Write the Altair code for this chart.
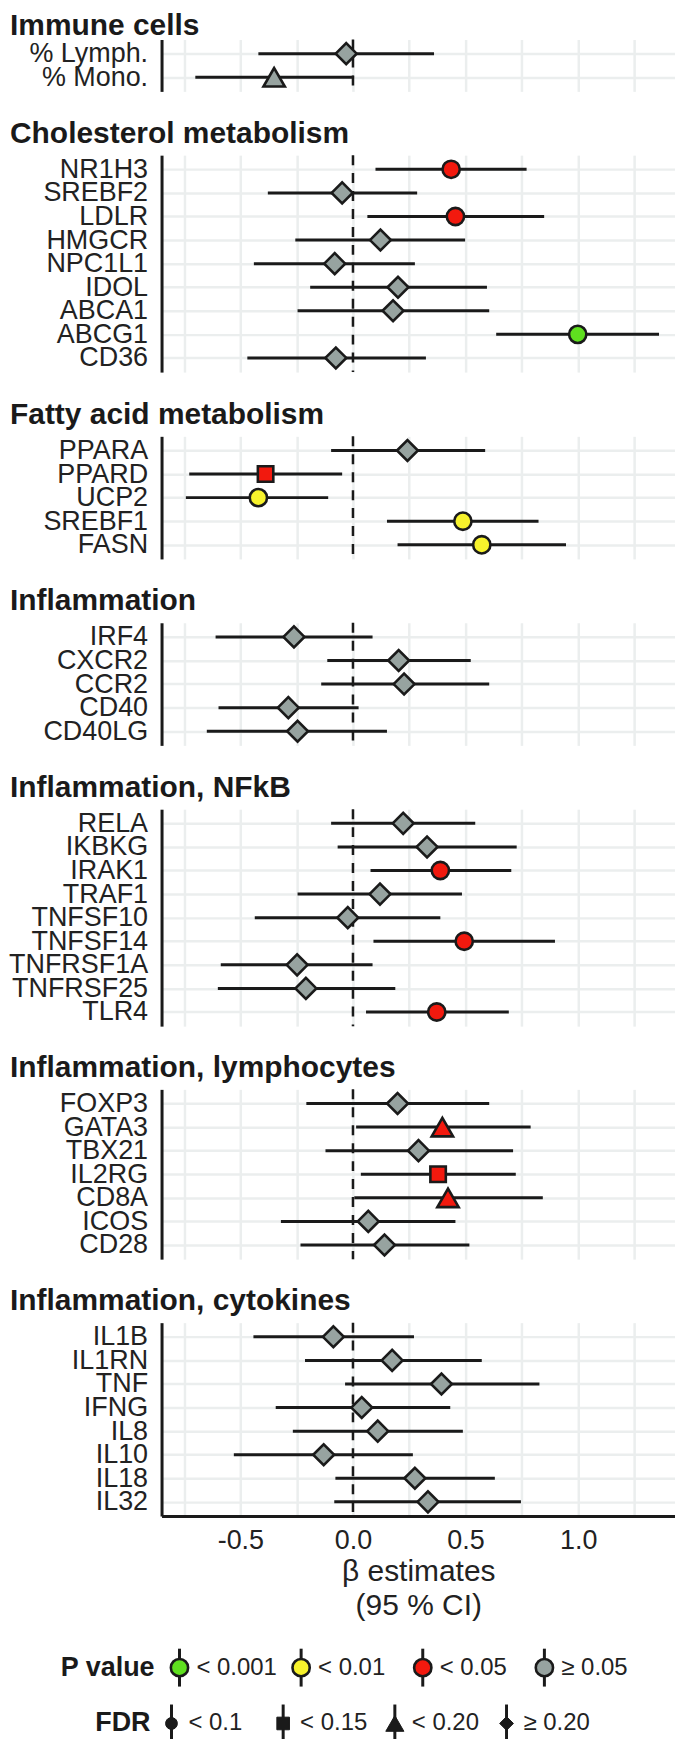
import altair as alt
import pandas as pd

FONT = "Liberation Sans"
DARK = "#1a1a1a"
TEXT = "#222222"
GRID = "#EBEEEE"

# ---- categories ----
P_KEYS = ["< 0.001", "< 0.01", "< 0.05", "≥ 0.05"]
P_COLORS = ["#5FE01F", "#F7F22C", "#F2190E", "#97A3A0"]
FDR_KEYS = ["< 0.1", "< 0.15", "< 0.20", "≥ 0.20"]
FDR_SHAPES = ["circle", "square", "triangle-up", "diamond"]

# ---- data ----
immune_genes = ["% Lymph.", "% Mono."]
immune_est = [-0.03, -0.35]
immune_lo = [-0.42, -0.70]
immune_hi = [0.36, 0.005]
immune_p = ["≥ 0.05", "≥ 0.05"]
immune_fdr = ["≥ 0.20", "< 0.20"]

chol_genes = ["NR1H3", "SREBF2", "LDLR", "HMGCR", "NPC1L1", "IDOL", "ABCA1", "ABCG1", "CD36"]
chol_est = [0.436, -0.048, 0.455, 0.122, -0.081, 0.200, 0.178, 0.998, -0.076]
chol_lo = [0.100, -0.378, 0.064, -0.256, -0.440, -0.190, -0.246, 0.636, -0.469]
chol_hi = [0.771, 0.285, 0.849, 0.498, 0.275, 0.595, 0.605, 1.359, 0.324]
chol_p = ["< 0.05", "≥ 0.05", "< 0.05", "≥ 0.05", "≥ 0.05", "≥ 0.05", "≥ 0.05", "< 0.001", "≥ 0.05"]
chol_fdr = ["< 0.1", "≥ 0.20", "< 0.1", "≥ 0.20", "≥ 0.20", "≥ 0.20", "≥ 0.20", "< 0.1", "≥ 0.20"]

fatty_genes = ["PPARA", "PPARD", "UCP2", "SREBF1", "FASN"]
fatty_est = [0.242, -0.388, -0.420, 0.488, 0.572]
fatty_lo = [-0.097, -0.727, -0.742, 0.151, 0.198]
fatty_hi = [0.587, -0.048, -0.110, 0.824, 0.946]
fatty_p = ["≥ 0.05", "< 0.05", "< 0.01", "< 0.01", "< 0.01"]
fatty_fdr = ["≥ 0.20", "< 0.15", "< 0.1", "< 0.1", "< 0.1"]

infl_genes = ["IRF4", "CXCR2", "CCR2", "CD40", "CD40LG"]
infl_est = [-0.262, 0.203, 0.227, -0.287, -0.246]
infl_lo = [-0.610, -0.114, -0.141, -0.597, -0.649]
infl_hi = [0.087, 0.523, 0.605, 0.025, 0.151]
infl_p = ["≥ 0.05"] * 5
infl_fdr = ["≥ 0.20"] * 5

nfkb_genes = ["RELA", "IKBKG", "IRAK1", "TRAF1", "TNFSF10", "TNFSF14", "TNFRSF1A", "TNFRSF25", "TLR4"]
nfkb_est = [0.223, 0.329, 0.388, 0.120, -0.023, 0.494, -0.248, -0.209, 0.372]
nfkb_lo = [-0.097, -0.068, 0.078, -0.246, -0.436, 0.091, -0.587, -0.600, 0.058]
nfkb_hi = [0.543, 0.727, 0.703, 0.484, 0.388, 0.897, 0.087, 0.188, 0.692]
nfkb_p = ["≥ 0.05", "≥ 0.05", "< 0.05", "≥ 0.05", "≥ 0.05", "< 0.05", "≥ 0.05", "≥ 0.05", "< 0.05"]
nfkb_fdr = ["≥ 0.20", "≥ 0.20", "< 0.1", "≥ 0.20", "≥ 0.20", "< 0.1", "≥ 0.20", "≥ 0.20", "< 0.1"]

lymph_genes = ["FOXP3", "GATA3", "TBX21", "IL2RG", "CD8A", "ICOS", "CD28"]
lymph_est = [0.198, 0.397, 0.291, 0.378, 0.422, 0.068, 0.140]
lymph_lo = [-0.207, 0.014, -0.122, 0.035, 0.006, -0.320, -0.233]
lymph_hi = [0.605, 0.789, 0.711, 0.723, 0.843, 0.455, 0.517]
lymph_p = ["≥ 0.05", "< 0.05", "≥ 0.05", "< 0.05", "< 0.05", "≥ 0.05", "≥ 0.05"]
lymph_fdr = ["≥ 0.20", "< 0.20", "≥ 0.20", "< 0.15", "< 0.20", "≥ 0.20", "≥ 0.20"]

cyto_genes = ["IL1B", "IL1RN", "TNF", "IFNG", "IL8", "IL10", "IL18", "IL32"]
cyto_est = [-0.087, 0.174, 0.393, 0.039, 0.110, -0.130, 0.275, 0.333]
cyto_lo = [-0.442, -0.213, -0.035, -0.343, -0.267, -0.529, -0.078, -0.083]
cyto_hi = [0.271, 0.572, 0.828, 0.432, 0.488, 0.266, 0.630, 0.746]
cyto_p = ["≥ 0.05"] * 8
cyto_fdr = ["≥ 0.20"] * 8

X_DOMAIN = [-0.85, 1.43]
X_TICKS = [-0.75, -0.5, -0.25, 0.0, 0.25, 0.5, 0.75, 1.0, 1.25]
X_TITLE = ["β estimates", "(95 % CI)"]

STEP = 23.65
PLOT_W = 515
LEG_H = 38

fill_scale = alt.Scale(domain=P_KEYS, range=P_COLORS)
shape_scale = alt.Scale(domain=FDR_KEYS, range=FDR_SHAPES)

SIZE_EXPR = ("datum.fdr == '< 0.1' ? 300 : datum.fdr == '< 0.15' ? 240 : "
             "datum.fdr == '< 0.20' ? 460 : 441")
LEG_SIZE_EXPR = ("datum.fdr == '< 0.1' ? 140 : datum.fdr == '< 0.15' ? 160 : "
                 "datum.fdr == '< 0.20' ? 330 : 190")

LABEL_EXPR = ("abs(datum.value * 2 - round(datum.value * 2)) < 0.001 ? "
              "replace(format(datum.value, '.1f'), '\u2212', '-') : ''")


def panel(title, genes, est, lo, hi, p, fdr, bottom=False, title_offset=-19):
    df = pd.DataFrame({"gene": genes, "est": est, "lo": lo, "hi": hi, "p": p, "fdr": fdr})
    zdf = pd.DataFrame({"zero": [0.0]})
    h = (len(genes) + 0.2) * STEP
    if bottom:
        xaxis = alt.Axis(values=X_TICKS, grid=True, gridColor=GRID, gridWidth=2.5,
                         domain=True, domainColor=DARK, domainWidth=3, ticks=False,
                         labelExpr=LABEL_EXPR, labelFontSize=27, labelFont=FONT,
                         labelColor=TEXT, labelPadding=12, labelFlush=False,
                         title=X_TITLE, titleFontSize=30, titleFont=FONT,
                         titleFontWeight="normal", titleColor=TEXT, titlePadding=3,
                         titleLineHeight=34)
    else:
        xaxis = alt.Axis(values=X_TICKS, grid=True, gridColor=GRID, gridWidth=2.5,
                         domain=False, ticks=False, labels=False, title=None)
    xsc = alt.Scale(domain=X_DOMAIN, nice=False, zero=False)

    def X(f):
        return alt.X(f, scale=xsc, axis=xaxis)

    yaxis = alt.Axis(title=None, domain=True, domainColor=DARK, domainWidth=3, ticks=False,
                     labelFontSize=27, labelFont=FONT, labelColor=TEXT, labelPadding=14,
                     labelLimit=300, grid=True, gridColor=GRID, gridWidth=2.5)
    Y = alt.Y("gene:N", sort=genes, scale=alt.Scale(type="point", padding=0.6), axis=yaxis)

    zero = alt.Chart(zdf).mark_rule(strokeDash=[10, 8], strokeWidth=2.5, color=DARK).encode(x=X("zero:Q"))
    bars = alt.Chart(df).mark_rule(strokeWidth=3, color=DARK).encode(x=X("lo:Q"), x2="hi:Q", y=Y)
    pts = alt.Chart(df).transform_calculate(sz=SIZE_EXPR).mark_point(
        filled=True, stroke=DARK, strokeWidth=2.6, opacity=1).encode(
        x=X("est:Q"), y=Y,
        fill=alt.Fill("p:N", scale=fill_scale, legend=None),
        shape=alt.Shape("fdr:N", scale=shape_scale, legend=None),
        size=alt.Size("sz:Q", scale=None, legend=None),
    )
    return alt.layer(zero, bars, pts).properties(
        width=PLOT_W, height=h,
        title=alt.TitleParams(title, anchor="start", frame="group", dx=-152, fontSize=30,
                              fontWeight="bold", font=FONT, color=DARK,
                              baseline="alphabetic", offset=title_offset),
    )


def legend_row(title, keys, field, W, pad, title_dx, kind):
    df = pd.DataFrame({field: keys})
    tdf = pd.DataFrame({field: [keys[0]], "t": [title]})
    x = alt.X(f"{field}:N", sort=keys, scale=alt.Scale(type="point", padding=pad, domain=keys), axis=None)
    mid = alt.value(LEG_H / 2)
    rule = alt.Chart(df).mark_rule(strokeWidth=3, color=DARK).encode(
        x=x, y=alt.value(0), y2=alt.value(LEG_H))
    if kind == "p":
        pts = alt.Chart(df).mark_point(filled=True, stroke=DARK, strokeWidth=2.6, opacity=1,
                                       shape="circle", size=300).encode(
            x=x, y=mid, fill=alt.Fill(f"{field}:N", scale=fill_scale, legend=None))
    else:
        pts = alt.Chart(df).transform_calculate(sz=LEG_SIZE_EXPR).mark_point(
            filled=True, fill=DARK, stroke=DARK, strokeWidth=1, opacity=1).encode(
            x=x, y=mid,
            shape=alt.Shape(f"{field}:N", scale=shape_scale, legend=None),
            size=alt.Size("sz:Q", scale=None, legend=None))
    labels = alt.Chart(df).mark_text(align="left", baseline="middle", dx=17, fontSize=24,
                                     font=FONT, color=TEXT).encode(x=x, y=mid, text=f"{field}:N")
    ttl = alt.Chart(tdf).mark_text(align="right", baseline="middle", dx=title_dx, fontSize=27,
                                   fontWeight="bold", font=FONT, color=DARK).encode(
        x=x, y=mid, text="t:N")
    return alt.layer(rule, pts, labels, ttl).properties(width=W, height=LEG_H)


panels = alt.vconcat(
    panel("Immune cells", immune_genes, immune_est, immune_lo, immune_hi, immune_p, immune_fdr,
          title_offset=-27),
    panel("Cholesterol metabolism", chol_genes, chol_est, chol_lo, chol_hi, chol_p, chol_fdr),
    panel("Fatty acid metabolism", fatty_genes, fatty_est, fatty_lo, fatty_hi, fatty_p, fatty_fdr),
    panel("Inflammation", infl_genes, infl_est, infl_lo, infl_hi, infl_p, infl_fdr),
    panel("Inflammation, NFkB", nfkb_genes, nfkb_est, nfkb_lo, nfkb_hi, nfkb_p, nfkb_fdr),
    panel("Inflammation, lymphocytes", lymph_genes, lymph_est, lymph_lo, lymph_hi, lymph_p, lymph_fdr),
    panel("Inflammation, cytokines", cyto_genes, cyto_est, cyto_lo, cyto_hi, cyto_p, cyto_fdr, bottom=True),
    spacing=25,
)

legends = alt.vconcat(
    legend_row("P value", P_KEYS, "p", 402, 0.1475, -25, "p"),
    legend_row("FDR", FDR_KEYS, "fdr", 356, 0.089, -21, "fdr"),
    spacing=14,
)

chart = alt.vconcat(panels, legends, spacing=26).properties(
    padding={"left": 0, "top": 0, "right": 0, "bottom": 0}
).configure(background="white").configure_view(stroke=None)

chart.save("out.html", embed_options={"renderer": "svg", "actions": False})
